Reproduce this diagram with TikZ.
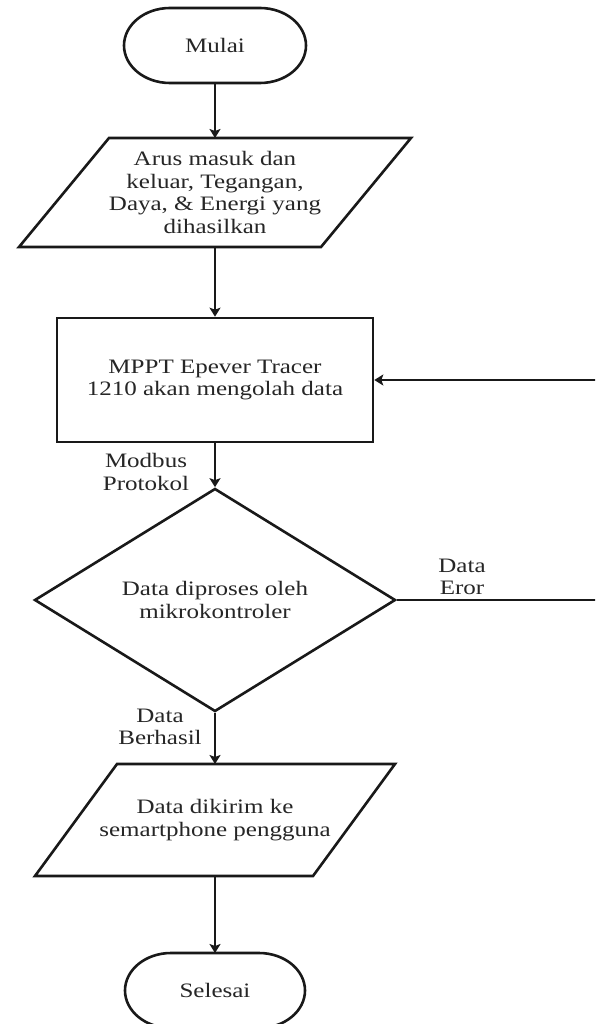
\documentclass[tikz,border=0pt]{standalone}
\usepackage{fontspec}
\setmainfont{Liberation Serif}[FakeStretch=1.22]
\usetikzlibrary{arrows.meta,shapes.geometric}

\tikzset{
  hold/.style={rectangle, inner sep=0pt, outer sep=0pt, align=center},
  frame/.style={line width=2.6pt, line join=miter, draw=black!90},
  box/.style={draw, rectangle, frame, minimum width=316pt, minimum height=124pt,
              inner sep=0pt, align=center},
  decision/.style={draw, diamond, frame, minimum width=361pt, minimum height=186pt,
                   inner sep=0pt, align=center},
  conn/.style={line width=1.8pt, draw=black!90,
               -{Stealth[length=9pt,width=11pt,inset=2pt]}},
  lbl/.style={align=center, inner sep=0pt},
}

% terminator outline drawn round a holder node (#1 name, #2 end radius x, #3 end radius y)
\newcommand\stadium[3]{%
  \draw[frame] ([xshift=#2]#1.north west) -- ([xshift=-#2]#1.north east)
    arc[start angle=90, end angle=-90, x radius=#2, y radius=#3]
    -- ([xshift=#2]#1.south west)
    arc[start angle=270, end angle=90, x radius=#2, y radius=#3] -- cycle;}

% slanted input/output outline round a holder node (#1 name, #2 slant offset)
\newcommand\slantbox[2]{%
  \draw[frame] ([xshift=#2]#1.north west) -- (#1.north east)
    -- ([xshift=-#2]#1.south east) -- (#1.south west) -- cycle;}

\begin{document}
\begin{tikzpicture}[font=\fontsize{20.5pt}{22.5pt}\selectfont, text=black!85]
\useasboundingbox (0,0) rectangle (595pt,-1024pt);
\fill[white] (0,0) rectangle (595pt,-1024pt);
\clip (0,0) rectangle (595pt,-1024pt);

% steps
\node[hold, minimum width=182pt, minimum height=75pt] (start) at (215pt,-45.5pt) {Mulai};
\node[hold, minimum width=392pt, minimum height=109pt] (input) at (215pt,-192.5pt)
  {Arus masuk dan\\keluar, Tegangan,\\Daya, \& Energi yang\\dihasilkan};
\node[box] (mppt) at (215pt,-380pt) {MPPT Epever Tracer\\1210 akan mengolah data};
\node[decision] (check) at (215pt,-600pt) {Data diproses oleh\\mikrokontroler};
\node[hold, minimum width=360pt, minimum height=112pt] (send) at (215pt,-820pt)
  {Data dikirim ke\\semartphone pengguna};
\node[hold, minimum width=180pt, minimum height=75pt] (stop) at (215pt,-990.5pt) {Selesai};

\stadium{start}{46pt}{37.5pt}
\slantbox{input}{90pt}
\slantbox{send}{82pt}
\stadium{stop}{46pt}{37.5pt}

% flow
\draw[conn] (start) -- (input);
\draw[conn] (input) -- (mppt);
\draw[conn] (mppt) -- (check);
\draw[conn] (check) -- (send);
\draw[conn] (send) -- (stop);

% error path back to the controller step
\coordinate (loop) at (612pt,0pt);
\draw[conn] (check.east) -- (check.east -| loop) -- (mppt.east -| loop) -- (mppt.east);

% connector labels
\node[lbl] (lblmod) at (146pt,-472pt) {Modbus\\Protokol};
\node[lbl] (lblerr) at (462pt,-577pt) {Data\\Eror};
\node[lbl] (lblok) at (160pt,-727pt) {Data\\Berhasil};
\end{tikzpicture}
\end{document}
